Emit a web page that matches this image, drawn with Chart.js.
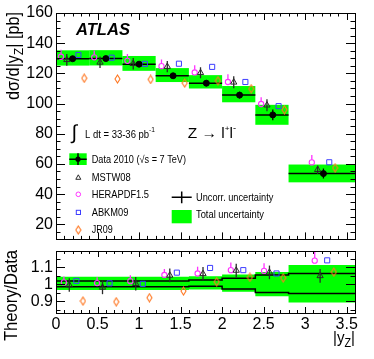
<!DOCTYPE html>
<html>
<head>
<meta charset="utf-8">
<script src="https://cdn.jsdelivr.net/npm/chart.js@4.4.1/dist/chart.umd.min.js"></script>
<style>
  html, body { margin: 0; padding: 0; background: #fff; overflow: hidden; }
  #wrap { position: relative; width: 374px; height: 359px; }
  canvas { position: absolute; left: 0; }
  #top { top: 0; }
  #bot { top: 230px; }
</style>
</head>
<body>
<div id="wrap">
  <canvas id="top" width="374" height="252"></canvas>
  <canvas id="bot" width="374" height="129"></canvas>
</div>
<script>
// bins in |y_Z|
const binLo = [0, 0.4, 0.8, 1.2, 1.6, 2.0, 2.4, 2.8];
const binHi = [0.4, 0.8, 1.2, 1.6, 2.0, 2.4, 2.8, 3.6];

// measured cross section [pb]
const dataX = [0.2, 0.6, 1.0, 1.41, 1.81, 2.21, 2.61, 3.22];
const dataY = [129.7, 129.8, 126.1, 118.4, 113.5, 105.6, 92.5, 53.6];
const uncorrErr = [1.3, 1.3, 1.5, 1.8, 2.0, 2.3, 3.5, 3.3];

// relative uncertainties (total = green, inner = black lines in ratio)
const totalUp = [0.043, 0.043, 0.043, 0.043, 0.047, 0.057, 0.072, 0.112];
const totalDown = [0.035, 0.035, 0.035, 0.035, 0.031, 0.045, 0.071, 0.108];
const innerUp = [0.018, 0.018, 0.018, 0.018, 0.024, 0.034, 0.053, 0.063];
const innerDown = [0.016, 0.016, 0.016, 0.016, 0.012, 0.029, 0.049, 0.055];

// predictions [pb]
const mstw08 = [129.0, 127.3, 126.4, 124.5, 120.4, 114.1, 98.9, 56.2];
const herapdf15 = [131.0, 130.6, 128.3, 124.8, 120.6, 114.3, 99.7, 61.0];
const abkm09 = [132.2, 130.4, 126.3, 126.4, 124.3, 114.3, 98.3, 61.1];
const jr09 = [116.8, 116.3, 116.0, 113.6, 115.1, 109.8, 95.9, 57.4];
const mstwErr = [0.03, 0.03, 0.03, 0.03, 0.03, 0.035, 0.04, 0.05];
const heraErrUp = [0.035, 0.035, 0.035, 0.035, 0.04, 0.045, 0.045, 0.08];

// axis ticks
const yTicksMain = [20, 40, 60, 80, 100, 120, 140, 160];
const yTicksRatio = [0.9, 1, 1.1];
const xTicks = [0, 0.5, 1, 1.5, 2, 2.5, 3, 3.5];

// horizontal shift of the prediction markers inside a bin
const mainShift = { hera: -0.14, mstw: -0.07, abkm: 0.07, jr: 0.14 };
const ratioShift = { hera: -0.105, mstw: -0.04, abkm: 0.045, jr: 0.125 };

const FONT = "'Liberation Sans', Arial, Helvetica, sans-serif";
const GREEN = '#00ff00';
const PINK = '#ff33ff';
const BLUE = '#3d3dff';
const ORANGE = '#ff7722';
const GREY = '#2a2a2a';

function textRun(ctx, parts, x, y, o = {}) {
  ctx.save();
  ctx.translate(x, y);
  if (o.rotate) ctx.rotate(o.rotate);
  let w = 0;
  for (const p of parts) {
    ctx.font = (p.style || '') + ' ' + p.size + 'px ' + FONT;
    p.w = ctx.measureText(p.t).width;
    w += p.w;
  }
  const sx = o.width ? o.width / w : 1;
  ctx.scale(sx, 1);
  let cx = o.align === 'right' ? -w : (o.align === 'center' ? -w / 2 : 0);
  ctx.fillStyle = o.color || '#000';
  ctx.textAlign = 'left';
  ctx.textBaseline = 'alphabetic';
  for (const p of parts) {
    ctx.font = (p.style || '') + ' ' + p.size + 'px ' + FONT;
    ctx.fillText(p.t, cx, p.dy || 0);
    cx += p.w;
  }
  ctx.restore();
}

function diamondImg(w, h, color) {
  const c = document.createElement('canvas');
  c.width = w + 2; c.height = h + 2;
  const g = c.getContext('2d');
  g.strokeStyle = color; g.lineWidth = 1.1;
  g.beginPath();
  g.moveTo(c.width / 2, 1);
  g.lineTo(c.width - 1, c.height / 2);
  g.lineTo(c.width / 2, c.height - 1);
  g.lineTo(1, c.height / 2);
  g.closePath();
  g.stroke();
  return c;
}
const diamond = diamondImg(5, 8, ORANGE);

function pts(xs, ys, shift) {
  return ys.map((v, i) => ({ x: xs[i] + shift, y: v }));
}

// inward ROOT-like ticks on all four sides + frame
const frame = {
  id: 'frame',
  afterDraw(chart, args, o) {
    const { ctx, chartArea: a, scales: { x, y } } = chart;
    ctx.save();
    ctx.strokeStyle = '#000';
    ctx.lineWidth = 1;
    ctx.beginPath();
    const each = (s, minor, major, fn) => {
      const k0 = Math.ceil(s.min / minor - 1e-9), k1 = Math.floor(s.max / minor + 1e-9);
      for (let k = k0; k <= k1; k++) {
        const v = k * minor;
        const isMajor = Math.abs(v / major - Math.round(v / major)) < 1e-6;
        fn(Math.round(s.getPixelForValue(v)) + 0.5, isMajor);
      }
    };
    each(x, o.xMinor, o.xMajor, (px, m) => {
      const l = m ? o.xLen : o.xLen / 2;
      ctx.moveTo(px, a.top); ctx.lineTo(px, a.top + l);
      ctx.moveTo(px, a.bottom); ctx.lineTo(px, a.bottom - l);
    });
    each(y, o.yMinor, o.yMajor, (py, m) => {
      const l = m ? o.yLen : o.yLen / 2;
      ctx.moveTo(a.left, py); ctx.lineTo(a.left + l, py);
      ctx.moveTo(a.right, py); ctx.lineTo(a.right - l, py);
    });
    ctx.stroke();
    ctx.strokeRect(Math.round(a.left) + 0.5, Math.round(a.top) + 0.5,
      Math.round(a.right) - Math.round(a.left), Math.round(a.bottom) - Math.round(a.top));
    ctx.restore();
  }
};

// vertical error bars stored on the datasets
const errorBars = {
  id: 'errorBars',
  beforeDatasetsDraw(chart) {
    const { ctx, chartArea: a, scales: { x, y } } = chart;
    ctx.save();
    ctx.beginPath();
    ctx.rect(a.left, a.top, a.width, a.height);
    ctx.clip();
    chart.data.datasets.forEach(ds => {
      if (!ds.errUp) return;
      ctx.strokeStyle = ds.errColor;
      ctx.lineWidth = 1.3;
      ds.data.forEach((p, j) => {
        const px = x.getPixelForValue(p.x);
        const pTop = y.getPixelForValue(p.y + ds.errUp[j]);
        let pBot = y.getPixelForValue(p.y - (ds.errDown ? ds.errDown[j] : 0));
        if (ds.errGap) pBot = y.getPixelForValue(p.y) - ds.errGap;
        ctx.beginPath();
        ctx.moveTo(px, pBot);
        ctx.lineTo(px, pTop);
        ctx.stroke();
      });
    });
    ctx.restore();
  }
};

// green boxes and data bin lines in the top panel
const mainBins = {
  id: 'mainBins',
  beforeDatasetsDraw(chart) {
    const { ctx, scales: { x, y } } = chart;
    ctx.save();
    ctx.fillStyle = GREEN;
    binLo.forEach((lo, i) => {
      const x0 = x.getPixelForValue(lo), x1 = x.getPixelForValue(binHi[i]);
      const y0 = y.getPixelForValue(dataY[i] * (1 + totalUp[i]));
      const y1 = y.getPixelForValue(dataY[i] * (1 - totalDown[i]));
      ctx.fillRect(x0, y0, x1 - x0, y1 - y0);
    });
    ctx.strokeStyle = '#000';
    ctx.lineWidth = 1.5;
    binLo.forEach((lo, i) => {
      const py = y.getPixelForValue(dataY[i]);
      ctx.beginPath();
      ctx.moveTo(x.getPixelForValue(lo), py);
      ctx.lineTo(x.getPixelForValue(binHi[i]), py);
      ctx.stroke();
    });
    ctx.restore();
  }
};

// band in the ratio panel
const ratioBand = {
  id: 'ratioBand',
  beforeDatasetsDraw(chart) {
    const { ctx, scales: { x, y } } = chart;
    const n = binLo.length;
    ctx.save();
    ctx.fillStyle = GREEN;
    ctx.beginPath();
    for (let i = 0; i < n; i++) {
      const py = y.getPixelForValue(1 + totalUp[i]);
      if (i === 0) ctx.moveTo(x.getPixelForValue(binLo[i]), py);
      else ctx.lineTo(x.getPixelForValue(binLo[i]), py);
      ctx.lineTo(x.getPixelForValue(binHi[i]), py);
    }
    for (let i = n - 1; i >= 0; i--) {
      const py = y.getPixelForValue(1 - totalDown[i]);
      ctx.lineTo(x.getPixelForValue(binHi[i]), py);
      ctx.lineTo(x.getPixelForValue(binLo[i]), py);
    }
    ctx.closePath();
    ctx.fill();
    ctx.strokeStyle = '#000';
    ctx.lineWidth = 1.5;
    [innerUp.map(v => 1 + v), innerDown.map(v => 1 - v)].forEach(vals => {
      ctx.beginPath();
      vals.forEach((v, i) => {
        const py = y.getPixelForValue(v);
        if (i === 0) ctx.moveTo(x.getPixelForValue(binLo[i]), py);
        else ctx.lineTo(x.getPixelForValue(binLo[i]), py);
        ctx.lineTo(x.getPixelForValue(binHi[i]), py);
      });
      ctx.stroke();
    });
    ctx.restore();
  }
};

// texts and legend of the top panel
const mainText = {
  id: 'mainText',
  afterDraw(chart) {
    const ctx = chart.ctx;
    textRun(ctx, [{ t: 'dσ/d|y', size: 18 }, { t: 'Z', size: 13, dy: 4 }, { t: '| [pb]', size: 18 }],
      19, 12, { rotate: -Math.PI / 2, align: 'right', width: 88 });
    textRun(ctx, [{ t: 'ATLAS', size: 17, style: 'italic bold' }], 76, 35, { width: 54 });
    textRun(ctx, [{ t: '∫', size: 20 }], 71.5, 139);
    textRun(ctx, [{ t: 'L dt = 33-36 pb', size: 10 }, { t: '-1', size: 7, dy: -6 }], 85, 137.7, { width: 70 });
    textRun(ctx, [{ t: 'Z', size: 15 }, { t: ' → ', size: 15 }, { t: 'l', size: 15 }, { t: '+', size: 8, dy: -7 },
      { t: 'l', size: 15 }, { t: '-', size: 9, dy: -7 }], 187.7, 138.3, { width: 48.3 });

    ctx.save();
    ctx.lineWidth = 1;
    // data entry
    ctx.fillStyle = GREEN;
    ctx.fillRect(69.3, 153.3, 17.4, 11.7);
    ctx.strokeStyle = '#000';
    ctx.lineWidth = 1.5;
    ctx.beginPath();
    ctx.moveTo(69.3, 159.2); ctx.lineTo(86.7, 159.2);
    ctx.moveTo(78, 153.3); ctx.lineTo(78, 165);
    ctx.stroke();
    ctx.fillStyle = '#000';
    ctx.beginPath(); ctx.arc(78, 159.2, 2.6, 0, Math.PI * 2); ctx.fill();
    ctx.lineWidth = 1;
    // MSTW triangle
    ctx.strokeStyle = GREY;
    ctx.beginPath();
    ctx.moveTo(78.3, 174.8); ctx.lineTo(80.8, 179.3); ctx.lineTo(75.8, 179.3); ctx.closePath();
    ctx.stroke();
    // HERAPDF circle
    ctx.strokeStyle = PINK;
    ctx.beginPath(); ctx.arc(78.3, 194.3, 2.3, 0, Math.PI * 2); ctx.stroke();
    // ABKM square
    ctx.strokeStyle = BLUE;
    ctx.strokeRect(76.3, 210.3, 4.2, 4.2);
    // JR09 diamond
    ctx.drawImage(diamond, 78.3 - diamond.width / 2, 230 - diamond.height / 2);
    // uncorr cross
    ctx.strokeStyle = '#000';
    ctx.lineWidth = 1.5;
    ctx.beginPath();
    ctx.moveTo(171.7, 197.3); ctx.lineTo(191.7, 197.3);
    ctx.moveTo(181.7, 191.5); ctx.lineTo(181.7, 203.3);
    ctx.stroke();
    // total box
    ctx.fillStyle = GREEN;
    ctx.fillRect(171.7, 210, 20, 13.3);
    ctx.restore();

    textRun(ctx, [{ t: 'Data 2010 (√s = 7 TeV)', size: 10.5 }], 91.7, 162.7, { width: 94.3 });
    textRun(ctx, [{ t: 'MSTW08', size: 10.5 }], 91.7, 180.7, { width: 39 });
    textRun(ctx, [{ t: 'HERAPDF1.5', size: 10.5 }], 91.7, 198.3, { width: 57.3 });
    textRun(ctx, [{ t: 'ABKM09', size: 10.5 }], 91.7, 216, { width: 36.7 });
    textRun(ctx, [{ t: 'JR09', size: 10.5 }], 91.7, 233.3, { width: 21 });
    textRun(ctx, [{ t: 'Uncorr. uncertainty', size: 10.5 }], 196, 200.5, { width: 77.3 });
    textRun(ctx, [{ t: 'Total uncertainty', size: 10.5 }], 196, 218.3, { width: 68 });
  }
};

const ratioText = {
  id: 'ratioText',
  afterDraw(chart) {
    const ctx = chart.ctx;
    textRun(ctx, [{ t: 'Theory/Data', size: 18.5 }], 16.5, 20, { rotate: -Math.PI / 2, align: 'right', width: 91 });
    textRun(ctx, [{ t: '|y', size: 17 }, { t: 'Z', size: 12, dy: 4 }, { t: '|', size: 17 }], 355, 113,
      { align: 'right', width: 22 });
  }
};

const tickFont = { family: FONT, size: 16 };

function yScale(min, max, ticks) {
  return {
    type: 'linear', min, max,
    grid: { display: false, drawTicks: false },
    border: { display: false },
    afterBuildTicks: s => { s.ticks = ticks.map(v => ({ value: v })); },
    afterFit: s => { s.width = 56; },
    ticks: { padding: 3, color: '#000', font: tickFont, callback: v => String(v) }
  };
}

const common = {
  responsive: false,
  animation: false,
  events: [],
  plugins: { legend: { display: false }, tooltip: { enabled: false } }
};

// top panel
new Chart(document.getElementById('top'), {
  type: 'scatter',
  data: {
    datasets: [
      {
        label: 'Data 2010', data: pts(dataX, dataY, 0),
        pointStyle: 'circle', pointRadius: 3, backgroundColor: '#000', borderColor: '#000',
        errUp: uncorrErr, errDown: uncorrErr, errColor: '#000'
      },
      {
        label: 'MSTW08', data: pts(dataX, mstw08, mainShift.mstw),
        pointStyle: 'triangle', pointRadius: 3.6, borderWidth: 1, backgroundColor: 'rgba(0,0,0,0)', borderColor: GREY,
        errUp: mstw08.map((v, i) => v * mstwErr[i]), errDown: mstw08.map((v, i) => v * mstwErr[i]), errColor: GREY
      },
      {
        label: 'HERAPDF1.5', data: pts(dataX, herapdf15, mainShift.hera),
        pointStyle: 'circle', pointRadius: 2.6, borderWidth: 1.1, backgroundColor: 'rgba(0,0,0,0)', borderColor: PINK,
        errUp: herapdf15.map((v, i) => v * heraErrUp[i]), errGap: 2.6, errColor: PINK
      },
      {
        label: 'ABKM09', data: pts(dataX, abkm09, mainShift.abkm),
        pointStyle: 'rect', pointRadius: 3.6, borderWidth: 1, backgroundColor: 'rgba(0,0,0,0)', borderColor: BLUE
      },
      {
        label: 'JR09', data: pts(dataX, jr09, mainShift.jr),
        pointStyle: diamond, pointRadius: 4, borderColor: ORANGE
      }
    ]
  },
  options: {
    ...common,
    layout: { padding: { top: 13, right: 19, bottom: 1, left: 0 } },
    scales: {
      x: { type: 'linear', min: 0, max: 3.6, display: false },
      y: yScale(10, 160, yTicksMain)
    },
    plugins: {
      ...common.plugins,
      frame: { xMinor: 0.1, xMajor: 0.5, xLen: 7, yMinor: 5, yMajor: 20, yLen: 9 }
    }
  },
  plugins: [mainBins, errorBars, frame, mainText]
});

// ratio panel
const ratio = arr => arr.map((v, i) => v / dataY[i]);
const mstwR = ratio(mstw08);
const heraR = ratio(herapdf15);

new Chart(document.getElementById('bot'), {
  type: 'scatter',
  data: {
    datasets: [
      {
        label: 'MSTW08', data: pts(dataX, mstwR, ratioShift.mstw),
        pointStyle: 'triangle', pointRadius: 3.6, borderWidth: 1, backgroundColor: 'rgba(0,0,0,0)', borderColor: GREY,
        errUp: mstwR.map(() => 0.04), errDown: mstwR.map(() => 0.04), errColor: GREY
      },
      {
        label: 'HERAPDF1.5', data: pts(dataX, heraR, ratioShift.hera),
        pointStyle: 'circle', pointRadius: 2.6, borderWidth: 1.1, backgroundColor: 'rgba(0,0,0,0)', borderColor: PINK,
        errUp: heraErrUp, errGap: 2.6, errColor: PINK
      },
      {
        label: 'ABKM09', data: pts(dataX, ratio(abkm09), ratioShift.abkm),
        pointStyle: 'rect', pointRadius: 3.6, borderWidth: 1, backgroundColor: 'rgba(0,0,0,0)', borderColor: BLUE
      },
      {
        label: 'JR09', data: pts(dataX, ratio(jr09), ratioShift.jr),
        pointStyle: diamond, pointRadius: 4, borderColor: ORANGE
      }
    ]
  },
  options: {
    ...common,
    layout: { padding: { top: 21, right: 19, bottom: 0, left: 0 } },
    scales: {
      x: {
        type: 'linear', min: 0, max: 3.6,
        grid: { display: false, drawTicks: false },
        border: { display: false },
        afterBuildTicks: s => { s.ticks = xTicks.map(v => ({ value: v })); },
        afterFit: s => { s.height = 46; },
        ticks: { padding: 2, color: '#000', font: tickFont, maxRotation: 0, autoSkip: false, callback: v => String(v) }
      },
      y: yScale(0.83, 1.195, yTicksRatio)
    },
    plugins: {
      ...common.plugins,
      frame: { xMinor: 0.1, xMajor: 0.5, xLen: 6, yMinor: 0.05, yMajor: 0.1, yLen: 9 }
    }
  },
  plugins: [ratioBand, errorBars, frame, ratioText]
});
</script>
</body>
</html>
